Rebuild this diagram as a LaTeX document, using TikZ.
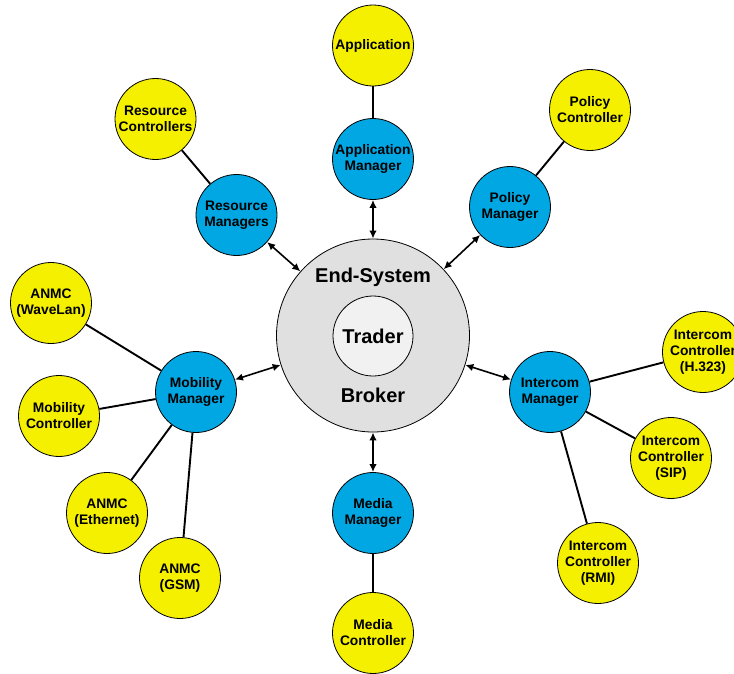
\documentclass[tikz,border=0pt]{standalone}
\usepackage{fontspec}
\setmainfont{Liberation Sans}
\usepackage{tikz}
\usetikzlibrary{positioning}
\usetikzlibrary{calc}
\usetikzlibrary{arrows.meta}
\definecolor{mblue}{RGB}{0,167,227}
\definecolor{cyellow}{RGB}{245,240,0}
\definecolor{esgray}{RGB}{224,224,224}
\definecolor{trgray}{RGB}{241,241,241}
\tikzset{every picture/.style={line width=0.8pt}}

\begin{document}
\begin{tikzpicture}[x=1pt,y=-1pt,mgr/.style={circle,draw,fill=mblue,minimum size=81pt,inner sep=0pt,align=center,font=\fontsize{13.8}{16}\selectfont\bfseries},ctl/.style={circle,draw,fill=cyellow,minimum size=81pt,inner sep=0pt,align=center,font=\fontsize{13.8}{16}\selectfont\bfseries},bus/.style={line width=1.6pt,{Latex[length=8pt,width=7.5pt]}-{Latex[length=8pt,width=7.5pt]}},lnk/.style={line width=1.9pt}]
\useasboundingbox (0,0) rectangle (734,673);
\node (ES) at (373,335.5) [circle,draw,fill=esgray,minimum size=193pt,inner sep=0pt] {};
\node (T) at (373,336) [circle,draw,fill=trgray,minimum size=80pt,inner sep=0pt,font=\fontsize{20}{22}\selectfont\bfseries] {Trader};
\node (es) at ($(ES)+(0,-58)$) [font=\fontsize{20}{22}\selectfont\bfseries] {End-System};
\node (br) at ($(ES)+(0,60)$) [font=\fontsize{20}{22}\selectfont\bfseries] {Broker};
\node (AM) at (373,159) [mgr] {Application\\Manager};
\node (A) at (373,45.5) [ctl] {Application};
\node (PM) at (510,207) [mgr] {Policy\\Manager};
\node (PC) at (590,110) [ctl] {Policy\\Controller};
\node (RM) at (236.5,215) [mgr] {Resource\\Managers};
\node (RC) at (155.5,119) [ctl] {Resource\\Controllers};
\node (MM) at (196,392) [mgr] {Mobility\\Manager};
\node (N1) at (51,303) [ctl] {ANMC\\(WaveLan)};
\node (MC) at (59,416) [ctl] {Mobility\\Controller};
\node (N2) at (107,513) [ctl] {ANMC\\(Ethernet)};
\node (N3) at (180,578) [ctl] {ANMC\\(GSM)};
\node (IM) at (550,392) [mgr] {Intercom\\Manager};
\node (I1) at (703,352) [ctl] {Intercom\\Controller\\(H.323)};
\node (I2) at (671,458) [ctl] {Intercom\\Controller\\(SIP)};
\node (I3) at (598,563) [ctl] {Intercom\\Controller\\(RMI)};
\node (DM) at (373,513) [mgr] {Media\\Manager};
\node (DC) at (373,633) [ctl] {Media\\Controller};
\foreach \m in {AM,PM,RM,MM,IM,DM} {
\draw[bus] (\m) -- (ES);
}
\draw[lnk] (AM) -- (A);
\draw[lnk] (PM) -- (PC);
\draw[lnk] (RM) -- (RC);
\draw[lnk] (MM) -- (N1);
\draw[lnk] (MM) -- (MC);
\draw[lnk] (MM) -- (N2);
\draw[lnk] (MM) -- (N3);
\draw[lnk] (IM) -- (I1);
\draw[lnk] (IM) -- (I2);
\draw[lnk] (IM) -- (I3);
\draw[lnk] (DM) -- (DC);
\end{tikzpicture}
\end{document}
